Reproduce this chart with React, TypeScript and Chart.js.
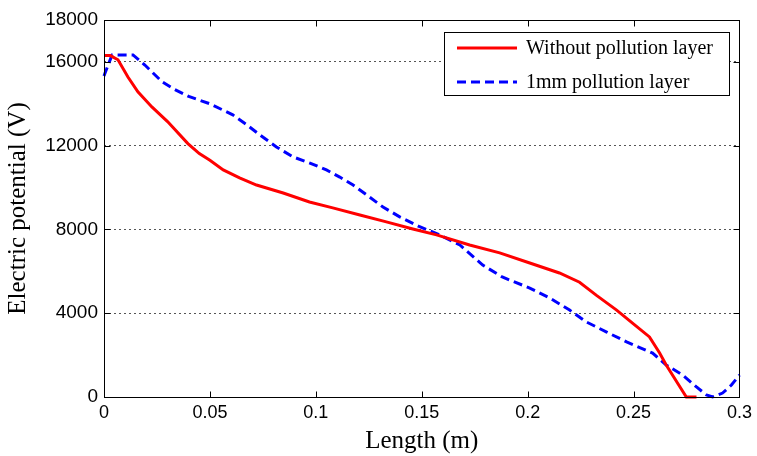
import React, { useEffect, useRef } from "react";
import { Chart, registerables } from "chart.js";

Chart.register(...registerables);

// Series: Without pollution layer
const redX = [0, 0.003, 0.0066, 0.0113, 0.016, 0.0226, 0.03, 0.0396, 0.045, 0.05, 0.0563, 0.064, 0.072, 0.0846, 0.097, 0.108, 0.1208, 0.1333, 0.1458, 0.157, 0.1726, 0.1868, 0.201, 0.215, 0.2245, 0.2325, 0.242, 0.2495, 0.2575, 0.2623, 0.2654, 0.2749, 0.2797];
const redY = [16300, 16300, 16100, 15280, 14570, 13850, 13150, 12100, 11620, 11300, 10840, 10460, 10120, 9740, 9310, 9030, 8690, 8360, 8020, 7740, 7260, 6880, 6400, 5920, 5480, 4850, 4150, 3530, 2870, 2100, 1530, 0, 0];

// Series: 1mm pollution layer
const blueX = [0, 0.0005, 0.0038, 0.0137, 0.0193, 0.0274, 0.033, 0.04, 0.05, 0.0608, 0.0675, 0.0736, 0.0814, 0.0893, 0.0972, 0.105, 0.1113, 0.1176, 0.124, 0.1317, 0.1396, 0.149, 0.1585, 0.168, 0.1788, 0.188, 0.201, 0.2104, 0.2198, 0.2278, 0.2373, 0.2467, 0.259, 0.2654, 0.2731, 0.2797, 0.2844, 0.2873, 0.292, 0.2962, 0.3];
const blueY = [15330, 15470, 16330, 16330, 15850, 15050, 14700, 14350, 14000, 13470, 12990, 12510, 11940, 11460, 11170, 10840, 10500, 10120, 9650, 9070, 8600, 8130, 7740, 7260, 6300, 5730, 5200, 4730, 4150, 3580, 3100, 2630, 2100, 1530, 1050, 480, 100, 0, 190, 570, 1050];

const seriesLabels = ["Without pollution layer", "1mm pollution layer"];
const xTicks = [0, 0.05, 0.1, 0.15, 0.2, 0.25, 0.3];
const xTickLabels = ["0", "0.05", "0.1", "0.15", "0.2", "0.25", "0.3"];
const yTicks = [0, 4000, 8000, 12000, 16000, 18000];
const yTickLabels = ["0", "4000", "8000", "12000", "16000", "18000"];
const xTitle = "Length (m)";
const yTitle = "Electric potential (V)";

const SERIF = "'Liberation Serif', 'Times New Roman', serif";
const SANS = "'Liberation Sans', Arial, sans-serif";

const framePlugin = {
  id: "frameAndLegend",
  afterDraw(chart: any) {
    const { ctx, chartArea: a, scales } = chart;
    ctx.save();
    ctx.strokeStyle = "#000";
    ctx.lineWidth = 1;
    const L = Math.round(a.left) + 0.5;
    const R = Math.round(a.right) + 0.5;
    const T = Math.round(a.top) + 0.5;
    const B = Math.round(a.bottom) + 0.5;
    ctx.strokeRect(L, T, R - L, B - T);
    const tl = 6;
    ctx.beginPath();
    scales.x.ticks.forEach((t: any) => {
      const px = Math.round(scales.x.getPixelForValue(t.value)) + 0.5;
      ctx.moveTo(px, B);
      ctx.lineTo(px, B - tl);
      ctx.moveTo(px, T);
      ctx.lineTo(px, T + tl);
    });
    scales.y.ticks.forEach((t: any) => {
      const py = Math.round(scales.y.getPixelForValue(t.value)) + 0.5;
      ctx.moveTo(L, py);
      ctx.lineTo(L + tl, py);
      ctx.moveTo(R, py);
      ctx.lineTo(R - tl, py);
    });
    ctx.stroke();

    // Legend box
    const ds = chart.data.datasets;
    ctx.font = "20px " + SERIF;
    const boxRight = Math.round(a.right) - 10;
    const boxTop = Math.round(a.top) + 12;
    const boxW = 285;
    const rowH = 34;
    const boxH = 63;
    const boxLeft = boxRight - boxW;
    ctx.fillStyle = "#fff";
    ctx.fillRect(boxLeft + 0.5, boxTop + 0.5, boxW, boxH);
    ctx.strokeStyle = "#000";
    ctx.lineWidth = 1;
    ctx.setLineDash([]);
    ctx.strokeRect(boxLeft + 0.5, boxTop + 0.5, boxW, boxH);
    ds.forEach((d: any, i: number) => {
      const y = boxTop + 16 + i * rowH;
      ctx.beginPath();
      ctx.strokeStyle = d.borderColor;
      ctx.lineWidth = d.borderWidth;
      ctx.setLineDash(d.borderDash || []);
      ctx.moveTo(boxLeft + 13, y);
      ctx.lineTo(boxLeft + 73, y);
      ctx.stroke();
      ctx.setLineDash([]);
      ctx.fillStyle = "#000";
      ctx.textBaseline = "middle";
      ctx.textAlign = "left";
      ctx.fillText(d.label, boxLeft + 82, y + 1);
    });
    ctx.restore();
  },
};

export default function App() {
  const ref = useRef<HTMLCanvasElement | null>(null);
  useEffect(() => {
    if (!ref.current) return;
    const redData = redX.map((x, i) => ({ x, y: redY[i] }));
    const blueData = blueX.map((x, i) => ({ x, y: blueY[i] }));
    const chart = new Chart(ref.current, {
      type: "line",
      data: {
        datasets: [
          {
            label: seriesLabels[0],
            data: redData,
            borderColor: "#ff0000",
            backgroundColor: "#ff0000",
            borderWidth: 3,
            pointRadius: 0,
            tension: 0,
            clip: false as any,
          },
          {
            label: seriesLabels[1],
            data: blueData,
            borderColor: "#0000ff",
            backgroundColor: "#0000ff",
            borderWidth: 3,
            borderDash: [9, 5],
            pointRadius: 0,
            tension: 0,
            clip: false as any,
          },
        ],
      },
      options: {
        animation: false,
        responsive: false,
        devicePixelRatio: 1,
        layout: { padding: { left: 0, top: 20, right: 17, bottom: 0 } },
        plugins: { legend: { display: false }, tooltip: { enabled: false } },
        scales: {
          x: {
            type: "linear",
            min: 0,
            max: 0.3,
            afterBuildTicks: (s: any) => {
              s.ticks = xTicks.map((v) => ({ value: v }));
            },
            afterFit: (s: any) => {
              s.height = 59;
            },
            ticks: {
              autoSkip: false,
              maxRotation: 0,
              padding: 5,
              color: "#000",
              font: { family: SANS, size: 18 },
              callback: (v: any) => {
                const i = xTicks.indexOf(Number(v));
                return i >= 0 ? xTickLabels[i] : "";
              },
            },
            grid: { display: false, drawTicks: false },
            border: { display: false },
            title: {
              display: true,
              text: xTitle,
              color: "#000",
              font: { family: SERIF, size: 25 },
              padding: { top: 0, bottom: 0 },
            },
          },
          y: {
            type: "linear",
            min: 0,
            max: 18000,
            afterBuildTicks: (s: any) => {
              s.ticks = yTicks.map((v) => ({ value: v }));
            },
            afterFit: (s: any) => {
              s.width = 104;
            },
            ticks: {
              autoSkip: false,
              padding: 6,
              color: "#000",
              font: { family: SANS, size: 19 },
              callback: (v: any) => {
                const i = yTicks.indexOf(Number(v));
                return i >= 0 ? yTickLabels[i] : "";
              },
            },
            grid: {
              drawTicks: false,
              lineWidth: 1,
              color: (c: any) =>
                c.tick && (c.tick.value === 0 || c.tick.value === 18000) ? "rgba(0,0,0,0)" : "#555",
            },
            border: { display: false, dash: [2, 3] },
            title: {
              display: true,
              text: yTitle,
              color: "#000",
              font: { family: SERIF, size: 25 },
              padding: { top: 3, bottom: 0 },
            },
          },
        },
      },
      plugins: [framePlugin],
    });
    return () => chart.destroy();
  }, []);
  return (
    <div style={{ position: "fixed", left: 0, top: 0, width: 757, height: 456, background: "#fff" }}>
      <canvas ref={ref} width={757} height={456} style={{ display: "block", width: 757, height: 456 }} />
    </div>
  );
}
